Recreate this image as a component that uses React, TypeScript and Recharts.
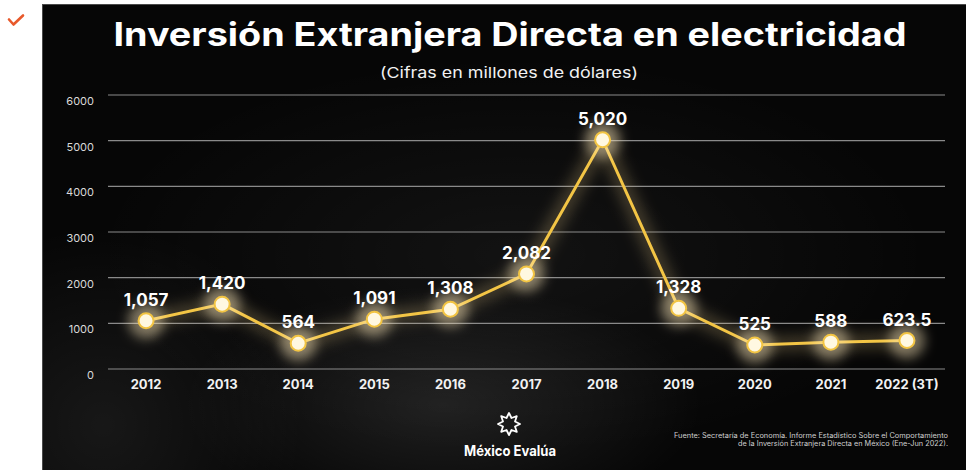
import React from "react";
import {
  LineChart,
  Line,
  XAxis,
  YAxis,
  CartesianGrid,
  LabelList,
} from "recharts";

const years = [
  "2012",
  "2013",
  "2014",
  "2015",
  "2016",
  "2017",
  "2018",
  "2019",
  "2020",
  "2021",
  "2022 (3T)",
];
const investment = [1057, 1420, 564, 1091, 1308, 2082, 5020, 1328, 525, 588, 623.5];
const yTicks = [0, 1000, 2000, 3000, 4000, 5000, 6000];

const data = years.map((year, idx) => ({ idx, year, value: investment[idx] }));
const centerTicks = years.map((_, i) => i);
const edgeTicks = [...years.map((_, i) => i - 0.5), years.length - 0.5];
const xDomain = [-0.5, years.length - 0.5];

const FONT = "Inter, 'Noto Sans', sans-serif";

function GlowDot(props: any) {
  const { cx, cy, index } = props;
  if (cx == null || cy == null) return null;
  return (
    <g key={`dot-${index}`}>
      <circle cx={cx} cy={cy} r={18} fill="rgba(255,236,190,0.45)" filter="url(#dotGlow)" />
      <circle cx={cx} cy={cy} r={7.5} fill="#fff8e1" stroke="#f2c443" strokeWidth={2} />
    </g>
  );
}

function YTick({ x, y, payload }: any) {
  return (
    <text
      x={x}
      y={y + 6}
      dy="0.355em"
      textAnchor="end"
      fill="#d9d9d9"
      fontSize={11}
      fontFamily={FONT}
    >
      {payload.value}
    </text>
  );
}

function starPoints(cx: number, cy: number, outer: number, inner: number) {
  const pts: string[] = [];
  for (let i = 0; i < 16; i++) {
    const r = i % 2 === 0 ? outer : inner;
    const a = (Math.PI * i) / 8 - Math.PI / 2;
    pts.push(`${cx + r * Math.cos(a)},${cy + r * Math.sin(a)}`);
  }
  return pts.join(" ");
}

export default function App() {
  return (
    <div
      style={{
        position: "relative",
        width: 966,
        height: 470,
        background: "#fff",
        overflow: "hidden",
        fontFamily: FONT,
      }}
    >
      <style>{`body{margin:0}`}</style>
      <div
        style={{
          position: "absolute",
          left: 42,
          top: 4,
          width: 924,
          height: 466,
          boxSizing: "border-box",
          borderTop: "1px solid #4a4a4a",
          borderLeft: "1px solid #4a4a4a",
          background:
            "radial-gradient(ellipse 260px 120px at 400px 400px, rgba(255,255,255,0.10), rgba(255,255,255,0) 100%)," +
            "radial-gradient(ellipse 200px 200px at 60px 420px, rgba(255,255,255,0.07), rgba(255,255,255,0) 100%)," +
            "radial-gradient(ellipse 420px 200px at 470px 250px, rgba(255,255,255,0.05), rgba(255,255,255,0) 100%)," +
            "#060606",
        }}
      />
      <svg
        width={966}
        height={470}
        style={{ position: "absolute", left: 0, top: 0 }}
      >
        <defs>
          <filter id="dotGlow" x="-100%" y="-100%" width="300%" height="300%">
            <feGaussianBlur stdDeviation="6" />
          </filter>
          <filter id="lineGlow" x="-20%" y="-20%" width="140%" height="140%">
            <feGaussianBlur stdDeviation="7" />
          </filter>
        </defs>
        <polyline
          points="9,19.5 13.5,24.5 23,15.5"
          fill="none"
          stroke="#e8592b"
          strokeWidth={2.6}
          strokeLinecap="round"
          strokeLinejoin="round"
        />
        <text
          x={510}
          y={46}
          textAnchor="middle"
          fill="#fff"
          fontSize={32}
          fontWeight={700}
          textLength={793}
          lengthAdjust="spacingAndGlyphs"
        >
          Inversión Extranjera Directa en electricidad
        </text>
        <text
          x={509}
          y={78}
          textAnchor="middle"
          fill="#f2f2f2"
          fontSize={15}
          textLength={258}
          lengthAdjust="spacingAndGlyphs"
        >
          (Cifras en millones de dólares)
        </text>
        <polygon
          points={starPoints(509, 424, 11, 6.5)}
          fill="none"
          stroke="#fff"
          strokeWidth={1.8}
          strokeLinejoin="round"
        />
        <text
          x={510}
          y={456}
          textAnchor="middle"
          fill="#fff"
          fontSize={14.5}
          fontWeight={700}
          textLength={92}
          lengthAdjust="spacingAndGlyphs"
        >
          México Evalúa
        </text>
        <text
          x={948}
          y={438}
          textAnchor="end"
          fill="#d0d0d0"
          fontSize={7}
          textLength={274}
          lengthAdjust="spacingAndGlyphs"
        >
          Fuente: Secretaría de Economía. Informe Estadístico Sobre el Comportamiento
        </text>
        <text
          x={948}
          y={446}
          textAnchor="end"
          fill="#d0d0d0"
          fontSize={7}
          textLength={210}
          lengthAdjust="spacingAndGlyphs"
        >
          de la Inversión Extranjera Directa en México (Ene-Jun 2022).
        </text>
      </svg>
      <div style={{ position: "absolute", left: 0, top: 0 }}>
        <LineChart
          width={966}
          height={470}
          data={data}
          margin={{ top: 95, right: 21, left: 48, bottom: 71 }}
        >
          <CartesianGrid
            xAxisId="cat"
            vertical={false}
            stroke="#8a8a8a"
            strokeWidth={1.2}
          />
          <XAxis
            xAxisId="edges"
            type="number"
            domain={xDomain}
            ticks={edgeTicks}
            allowDataOverflow
            height={0}
            mirror
            tick={false}
            tickSize={6}
            axisLine={{ stroke: "#7a7a7a", strokeWidth: 1.5 }}
            tickLine={{ stroke: "#7a7a7a", strokeWidth: 1.2 }}
          />
          <XAxis
            xAxisId="cat"
            type="number"
            dataKey="idx"
            domain={xDomain}
            ticks={centerTicks}
            interval={0}
            allowDataOverflow
            height={30}
            tickFormatter={(i: number) => years[i] ?? ""}
            tickLine={false}
            axisLine={false}
            tickMargin={5}
            tick={{ fill: "#f2f2f2", fontSize: 13, fontWeight: 700, fontFamily: FONT }}
          />
          <YAxis
            type="number"
            domain={[0, 6000]}
            ticks={yTicks}
            width={60}
            tickLine={false}
            axisLine={false}
            tickMargin={8}
            tick={<YTick />}
          />
          <Line
            xAxisId="cat"
            dataKey="value"
            stroke="rgba(255,225,150,0.22)"
            strokeWidth={16}
            dot={false}
            activeDot={false}
            filter="url(#lineGlow)"
            isAnimationActive={false}
          />
          <Line
            xAxisId="cat"
            dataKey="value"
            stroke="#f3c545"
            strokeWidth={3}
            dot={<GlowDot />}
            activeDot={false}
            isAnimationActive={false}
          >
            <LabelList
              dataKey="value"
              position="top"
              offset={15}
              formatter={(v: any) => Number(v).toLocaleString("en-US")}
              fill="#ffffff"
              fontSize={17}
              fontWeight={700}
              fontFamily={FONT}
            />
          </Line>
        </LineChart>
      </div>
    </div>
  );
}
